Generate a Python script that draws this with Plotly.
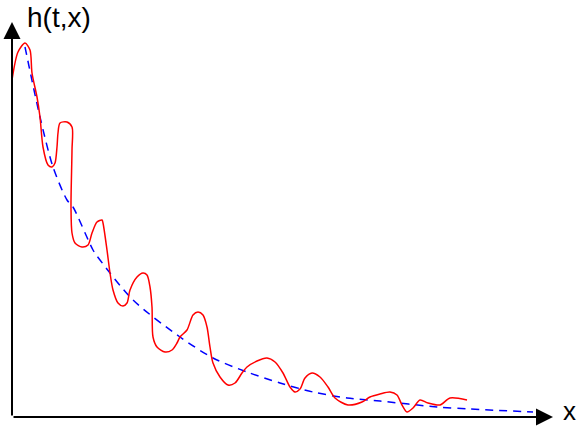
import plotly.graph_objects as go

# Schematic data (x along the axis, h upward), origin at the axes corner
trend_x = [13, 28, 41, 55, 61, 81, 88, 121, 168, 201, 235, 268, 301, 335, 368, 425, 458, 521]
trend_h = [370, 300, 250, 217, 210, 167, 157, 117, 80, 59, 45, 34, 25, 19, 16, 10, 8, 5]

wave_x = [0, 6, 13, 18, 20, 25, 28, 31, 36, 40, 43, 45, 46, 48, 55, 60, 60, 59, 60, 63, 70, 76,
          80, 85, 90, 91, 95, 98, 101, 106, 111, 115, 118, 125, 131, 135, 138, 140, 141, 145,
          153, 160, 165, 168, 175, 181, 186, 191, 195, 198, 201, 208, 216, 223, 230, 235, 245,
          255, 263, 271, 278, 283, 288, 293, 300, 308, 316, 323, 336, 350, 358, 368, 378, 385,
          390, 395, 401, 408, 416, 428, 438, 455]
wave_h = [337, 365, 374, 367, 344, 320, 300, 270, 252, 250, 254, 270, 284, 294, 295, 290, 267,
          210, 184, 174, 170, 172, 184, 195, 197, 194, 167, 144, 127, 114, 111, 114, 127, 140,
          144, 142, 130, 110, 80, 70, 65, 67, 74, 80, 87, 102, 105, 102, 90, 70, 54, 40, 32,
          34, 44, 50, 56, 59, 55, 44, 30, 25, 28, 39, 44, 40, 30, 19, 12, 15, 20, 23, 25, 22,
          12, 5, 9, 17, 14, 12, 19, 17, 12]

fig = go.Figure()
fig.add_trace(go.Scatter(x=trend_x, y=trend_h, mode="lines",
                         line=dict(color="#0000ff", width=1.5, dash="8px,6px", shape="spline", smoothing=0.8),
                         hoverinfo="skip"))
fig.add_trace(go.Scatter(x=wave_x, y=wave_h, mode="lines",
                         line=dict(color="#ff0000", width=1.5, shape="spline", smoothing=0.8),
                         hoverinfo="skip"))

# axes with arrows
fig.add_annotation(x=0, y=395, ax=0, ay=0, xref="x", yref="y", axref="x", ayref="y",
                   showarrow=True, arrowhead=2, arrowsize=1.7, arrowwidth=2, arrowcolor="black", text="")
fig.add_annotation(x=541, y=0, ax=0, ay=0, xref="x", yref="y", axref="x", ayref="y",
                   showarrow=True, arrowhead=2, arrowsize=1.7, arrowwidth=2, arrowcolor="black", text="")
fig.add_annotation(x=13, y=400, xref="x", yref="y", text="h(t,x)", showarrow=False,
                   xanchor="left", yanchor="middle", font=dict(family="Liberation Sans, Arial", size=28, color="black"))
fig.add_annotation(x=550, y=-10, xref="x", yref="y", text="x", showarrow=False, borderpad=0,
                   xanchor="left", yanchor="bottom",
                   font=dict(family="Liberation Sans, Arial", size=26, color="black"))

fig.update_layout(width=579, height=428, margin=dict(l=0, r=0, t=0, b=0),
                  paper_bgcolor="white", plot_bgcolor="white", showlegend=False,
                  xaxis=dict(range=[-12, 567], visible=False, fixedrange=True),
                  yaxis=dict(range=[-11, 417], visible=False, fixedrange=True))
fig.write_html("out.html", config={"displayModeBar": False, "staticPlot": True},
               post_script="document.body.style.margin='0';document.body.style.overflow='hidden';")
